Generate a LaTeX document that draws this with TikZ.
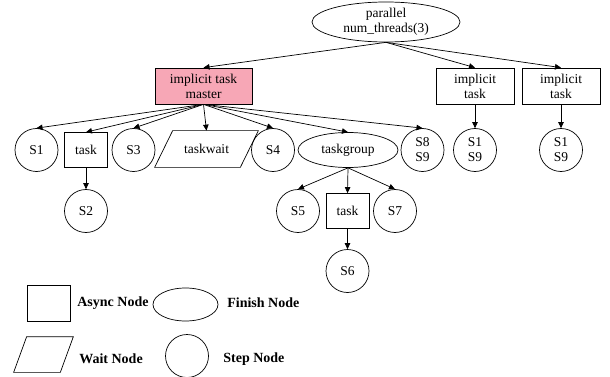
\documentclass[tikz,border=0pt]{standalone}
\usepackage{fontspec}
\setmainfont{Liberation Serif}
\usepackage{tikz}
\usetikzlibrary{shapes.geometric,arrows.meta}
\usepackage{xcolor}
\definecolor{masterpink}{RGB}{247,167,182}

\begin{document}
\begin{tikzpicture}[
    x=1pt, y=-1pt,
    line width=0.7pt,
    >={Triangle[length=6pt,width=5.5pt]},
    every node/.style={font=\fontsize{13.5}{15}\selectfont, align=center, inner sep=0pt},
    stepnode/.style={draw, circle, minimum size=43pt},
    asyncnode/.style={draw, rectangle, minimum width=43pt, minimum height=35pt},
    finishnode/.style={draw, ellipse, minimum width=100pt, minimum height=35pt},
    waitnode/.style={rectangle, minimum height=36pt},
    legendtext/.style={anchor=west, font=\fontsize{14}{15}\selectfont\bfseries}
]

\useasboundingbox (0,0) rectangle (610,377);

% parallel region and its implicit tasks
\node[finishnode, minimum width=148pt, minimum height=40pt] (par) at (386,22) {parallel\\num\_threads(3)};
\node[asyncnode, fill=masterpink, minimum width=97pt, minimum height=36pt] (master) at (203.5,86) {implicit task\\master};
\node[asyncnode, minimum width=78pt, minimum height=36pt] (imp2) at (475,86) {implicit\\task};
\node[asyncnode, minimum width=78pt, minimum height=36pt] (imp3) at (561,86) {implicit\\task};

\draw[->] (par.south) -- (master.north);
\draw[->] (par.south) -- (imp2.north);
\draw[->] (par.south) -- (imp3.north);

% children of the master thread
\node[stepnode] (s1) at (36.5,150) {S1};
\node[asyncnode] (task1) at (86,150) {task};
\node[stepnode] (s3) at (133.5,150) {S3};
\node[waitnode, minimum width=85pt] (wait) at (206.5,149) {taskwait};
\draw ([xshift=9pt]wait.north west) -- ([xshift=9pt]wait.north east)
   -- ([xshift=-9pt]wait.south east) -- ([xshift=-9pt]wait.south west) -- cycle;
\node[stepnode] (s4) at (273,150) {S4};
\node[finishnode] (tg) at (348,150) {taskgroup};
\node[stepnode] (s89) at (422.5,150) {S8\\S9};

\foreach \n in {s1,task1,s3,wait,s4,tg,s89}{
    \draw[->] (master.south) -- (\n.north);
}

\node[stepnode] (s2) at (86,211) {S2};
\draw[->] (task1) -- (s2);

% inside the taskgroup
\node[stepnode] (s5) at (298,211) {S5};
\node[asyncnode] (task2) at (347.5,211) {task};
\node[stepnode] (s7) at (395,211) {S7};
\node[stepnode] (s6) at (347.5,271) {S6};

\draw[->] (tg.south) -- (s5.north);
\draw[->] (tg.south) -- (task2.north);
\draw[->] (tg.south) -- (s7.north);
\draw[->] (task2) -- (s6);

% the other two threads
\node[stepnode] (t2s) at (475,150) {S1\\S9};
\node[stepnode] (t3s) at (561,150) {S1\\S9};
\draw[->] (imp2.south) -- (t2s.north);
\draw[->] (imp3.south) -- (t3s.north);

% legend
\node[asyncnode, minimum height=36pt] (lasync) at (48.5,303) {};
\node[legendtext] (lasynct) at (77,303) {Async Node};
\node[finishnode, minimum width=65pt, minimum height=33pt] (lfinish) at (185.5,304.5) {};
\node[legendtext] (lfinisht) at (227,303) {Finish Node};
\node[waitnode, minimum width=46pt, minimum height=35pt] (lwait) at (43.5,354.5) {};
\draw ([xshift=6.5pt]lwait.north west) -- ([xshift=6.5pt]lwait.north east)
   -- ([xshift=-6.5pt]lwait.south east) -- ([xshift=-6.5pt]lwait.south west) -- cycle;
\node[legendtext] (lwaitt) at (79,359) {Wait Node};
\node[stepnode] (lstep) at (187,356) {};
\node[legendtext] (lstept) at (223,359) {Step Node};

\end{tikzpicture}
\end{document}
